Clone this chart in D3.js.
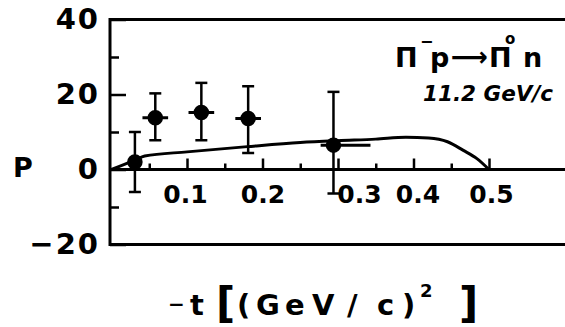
<!DOCTYPE html>
<html>
<head>
<meta charset="utf-8">
<script src="https://cdn.jsdelivr.net/npm/d3@7"></script>
<style>
body { margin: 0; background: #fff; }
svg { display: block; }
svg text { font-family: 'DejaVu Sans', sans-serif; }
</style>
</head>
<body>
<svg id="chart" width="565" height="327"></svg>
<script>
// measured points: -t, polarisation P (%), error bar ends
const tVals = [0.031, 0.058, 0.119, 0.181, 0.294];
const pVals = [2.0, 13.8, 15.2, 13.6, 6.5];
const pHigh = [10.0, 20.3, 23.1, 22.2, 20.7];
const pLow = [-6.0, 7.8, 7.8, 4.4, -6.4];
const tErrLeft = [0, 0.017, 0.017, 0.017, 0.017];
const tErrRight = [0, 0.017, 0.017, 0.017, 0.049];

// model curve
const curveT = [0, 0.031, 0.044, 0.10, 0.18, 0.25, 0.30, 0.35, 0.39, 0.42, 0.445, 0.466, 0.484, 0.50];
const curveP = [0, 2.5, 3.6, 4.7, 6.1, 7.2, 7.7, 8.1, 8.6, 8.4, 7.4, 5.1, 2.9, 0];

const yTickVals = [-20, 0, 20, 40];
const yMinorVals = [-10, 10, 30];
const xTickVals = [0.1, 0.2, 0.3, 0.4, 0.5];
const xMinorVals = [0.05, 0.15, 0.25, 0.35, 0.45];
const xTickShift = { 0.1: -2, 0.3: 21, 0.4: 4, 0.5: 2 };

let svg = d3.select('#chart');
let x = d3.scaleLinear().domain([0, 0.6]).range([111.5, 564.5]),
	y = d3.scaleLinear().domain([-20, 40]).range([244.5, 19.5]);
const x0 = 110, x1 = 565;

// frame
let frame = svg.append('g').attr('stroke', '#000').attr('stroke-width', 3).attr('fill', 'none');
frame.append('line').attr('x1', x0).attr('x2', x0).attr('y1', y(40) - 1.5).attr('y2', y(-20) + 1.5);
[40, 0, -20].forEach(v => {
	frame.append('line').attr('x1', x0).attr('x2', x1).attr('y1', y(v)).attr('y2', y(v));
});

// y axis
let yAxis = svg.append('g').attr('transform', `translate(${x0},0)`)
	.call(d3.axisLeft(y).tickValues(yTickVals).tickSizeInner(-16).tickSizeOuter(0).tickPadding(10));
svg.append('g').attr('transform', `translate(${x0},0)`)
	.call(d3.axisLeft(y).tickValues(yMinorVals).tickSizeInner(-9).tickSizeOuter(0).tickFormat(''));

// x axis on the zero line
let xAxis = svg.append('g').attr('transform', `translate(0,${y(0)})`)
	.call(d3.axisBottom(x).tickValues(xTickVals).tickSizeInner(-11).tickSizeOuter(0).tickPadding(16)
		.tickFormat(d3.format('.1f')));
svg.append('g').attr('transform', `translate(0,${y(0)})`)
	.call(d3.axisBottom(x).tickValues(xMinorVals).tickSizeInner(-6).tickSizeOuter(0).tickFormat(''));

svg.selectAll('.domain').remove();
svg.selectAll('.tick line').attr('stroke', '#000').attr('stroke-width', 2.5);
yAxis.selectAll('text').attr('font-size', 29).attr('font-weight', 'bold').attr('fill', '#000')
	.attr('letter-spacing', 2);
xAxis.selectAll('text').attr('font-size', 25).attr('font-weight', 'bold').attr('fill', '#000')
	.attr('dx', d => xTickShift[d] || 0);

// axis titles
svg.append('text').attr('x', 13).attr('y', 177).attr('font-size', 27).attr('font-weight', 'bold').text('P');

const titleGlyphs = ['−', 't', '[', '(', 'G', 'e', 'V', '/', 'c', ')', '2', ']'];
const titleX = [168, 190, 216, 237, 256, 285, 312, 347, 377, 402, 420, 459];
let xt = svg.append('text').attr('y', 315).attr('font-size', 29).attr('font-weight', 'bold');
titleGlyphs.forEach((g, i) => {
	let ts = xt.append('tspan').attr('x', titleX[i]).attr('y', 315).text(g);
	if (g === '−') ts.attr('font-size', 20).attr('y', 311);
	if (g === '[' || g === ']') ts.attr('font-size', 42).attr('y', 318);
	if (g === '2') ts.attr('font-size', 18).attr('y', 297);
});

// reaction label
let lab = svg.append('g').attr('font-size', 27).attr('font-weight', 'bold');
lab.append('text').attr('x', 395).attr('y', 67).text('Π');
lab.append('text').attr('x', 420).attr('y', 47).attr('font-size', 16).text('−');
lab.append('text').attr('x', 430).attr('y', 67).text('p');
lab.append('text').attr('x', 451).attr('y', 66).attr('textLength', 37).attr('lengthAdjust', 'spacingAndGlyphs').text('⟶');
lab.append('text').attr('x', 489).attr('y', 67).text('Π');
lab.append('text').attr('x', 505).attr('y', 44).attr('font-size', 15).text('o');
lab.append('text').attr('x', 523).attr('y', 67).text('n');
svg.append('text').attr('x', 423).attr('y', 101).attr('font-size', 22).attr('font-style', 'italic')
	.attr('font-weight', 'bold')
	.attr('textLength', 130).attr('lengthAdjust', 'spacingAndGlyphs').text('11.2 GeV/c');

// model curve
let line = d3.line().x(d => x(d[0])).y(d => y(d[1])).curve(d3.curveMonotoneX);
svg.append('path').datum(d3.zip(curveT, curveP))
	.attr('d', line).attr('fill', 'none').attr('stroke', '#000').attr('stroke-width', 3);

// data points
let pts = svg.append('g').attr('stroke', '#000').attr('stroke-width', 2.5);
tVals.forEach((t, i) => {
	let cx = x(t), cap = 6;
	pts.append('line').attr('x1', cx).attr('x2', cx).attr('y1', y(pHigh[i])).attr('y2', y(pLow[i]));
	pts.append('line').attr('x1', cx - cap).attr('x2', cx + cap).attr('y1', y(pHigh[i])).attr('y2', y(pHigh[i]));
	pts.append('line').attr('x1', cx - cap).attr('x2', cx + cap).attr('y1', y(pLow[i])).attr('y2', y(pLow[i]));
	if (tErrRight[i] > 0) {
		pts.append('line').attr('x1', x(t - tErrLeft[i])).attr('x2', x(t + tErrRight[i]))
			.attr('y1', y(pVals[i])).attr('y2', y(pVals[i])).attr('stroke-width', 3);
	}
	pts.append('circle').attr('cx', cx).attr('cy', y(pVals[i])).attr('r', 6.5).attr('fill', '#000');
});
</script>
</body>
</html>
